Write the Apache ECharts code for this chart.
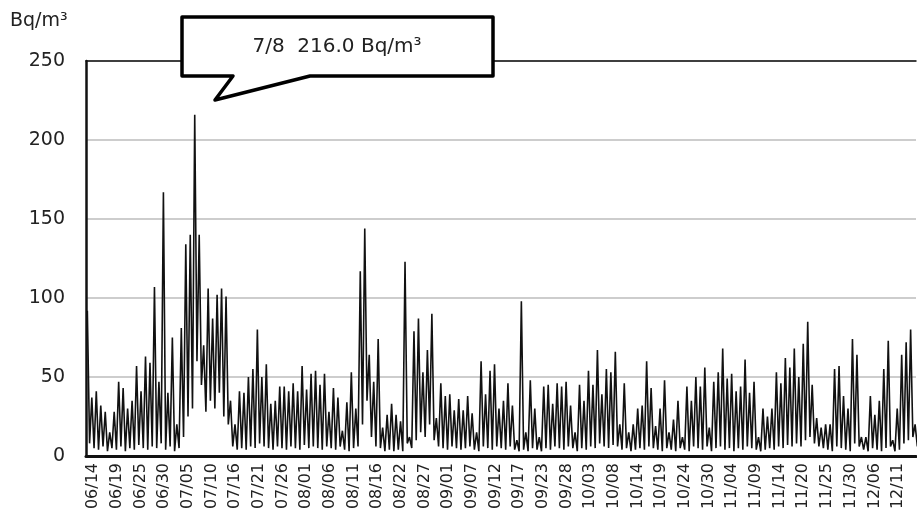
<!DOCTYPE html>
<html>
<head>
<meta charset="utf-8">
<script src="https://cdn.jsdelivr.net/npm/echarts@6/dist/echarts.min.js"></script>
<style>
  html, body { margin: 0; padding: 0; background: #fff; }
  #chart { width: 917px; height: 530px; }
</style>
</head>
<body>
<div id="chart"></div>
<script>
// x labels, one every 127 hours
const tickLabels = ['06/14', '06/19', '06/25', '06/30', '07/05', '07/10', '07/16', '07/21', '07/26',
  '08/01', '08/06', '08/11', '08/16', '08/22', '08/27', '09/01', '09/07', '09/12', '09/17', '09/23',
  '09/28', '10/03', '10/08', '10/14', '10/19', '10/24', '10/30', '11/04', '11/09', '11/14', '11/20',
  '11/25', '11/30', '12/06', '12/11'];
const tickStart = 1.57;   // in days from the left edge
const tickStep = 127 / 24;

const yTicks = [0, 50, 100, 150, 200, 250];

// daily peak (night) and trough (day) values, Bq/m3
const dailyHigh = [
  92, 37, 41, 32, 28, 15, 28, 47, 43, 30,
  35, 57, 41, 63, 59, 107, 47, 167, 40, 75,
  20, 81, 134, 140, 216, 140, 70, 106, 87, 102,
  106, 101, 35, 20, 41, 40, 50, 55, 80, 50,
  58, 33, 35, 44, 44, 41, 46, 41, 57, 42,
  52, 54, 45, 52, 28, 43, 37, 16, 34, 53,
  30, 117, 144, 64, 47, 74, 18, 26, 33, 26,
  22, 123, 12, 79, 87, 53, 67, 90, 24, 46,
  38, 39, 29, 36, 29, 38, 27, 15, 60, 39,
  54, 58, 30, 35, 46, 32, 10, 98, 15, 48,
  30, 12, 44, 45, 33, 46, 44, 47, 32, 15,
  45, 35, 54, 45, 67, 39, 55, 53, 66, 20,
  46, 15, 20, 30, 32, 60, 43, 19, 30, 48,
  15, 23, 35, 12, 44, 35, 50, 44, 56, 18,
  47, 53, 68, 49, 52, 41, 44, 61, 40, 47,
  12, 30, 25, 30, 53, 46, 62, 56, 68, 50,
  71, 85, 45, 24, 18, 20, 20, 55, 57, 38,
  30, 74, 64, 12, 12, 38, 26, 35, 55, 73,
  10, 30, 64, 72, 80, 20
];
const dailyLow = [
  8, 5, 4, 6, 3, 5, 4, 6, 3, 5,
  4, 7, 5, 4, 6, 5, 8, 4, 6, 3,
  5, 12, 25, 30, 60, 45, 28, 35, 30, 40,
  25, 20, 6, 4, 5, 4, 6, 5, 8, 6,
  5, 4, 6, 5, 4, 6, 5, 4, 7, 5,
  6, 5, 4, 6, 5, 4, 6, 4, 3, 5,
  6, 20, 35, 12, 6, 5, 3, 4, 3, 4,
  3, 8, 5, 10, 15, 12, 20, 10, 6, 5,
  4, 6, 5, 4, 5, 6, 4, 3, 6, 5,
  4, 6, 5, 4, 6, 4, 3, 4, 3, 5,
  4, 3, 5, 4, 6, 5, 4, 6, 5, 3,
  5, 4, 6, 5, 8, 6, 5, 7, 6, 4,
  5, 3, 4, 5, 4, 6, 5, 4, 3, 5,
  4, 3, 5, 4, 3, 6, 5, 4, 6, 3,
  5, 6, 4, 5, 3, 5, 4, 6, 5, 4,
  3, 4, 5, 4, 6, 5, 7, 6, 8, 6,
  10, 12, 8, 6, 5, 4, 3, 6, 5, 4,
  3, 8, 6, 4, 3, 5, 4, 3, 5, 6,
  3, 4, 8, 10, 12, 6
];

const unitText = 'Bq/m³';
const peakNote = '7/8  216.0 Bq/m³';

let seriesData = [];
dailyHigh.forEach((v, i) => {
  seriesData.push([i + 0.3, v]);
  seriesData.push([i + 0.8, dailyLow[i]]);
});

const xMax = dailyHigh.length - 0.5;
const tickValues = tickLabels.map((t, i) => tickStart + i * tickStep);
const font = 'DejaVu Sans';

let chart = echarts.init(document.getElementById('chart'), null, { renderer: 'canvas' });

let option = {
  animation: false,
  backgroundColor: '#fff',
  grid: { left: 86, right: 1, top: 61, bottom: 74 },
  xAxis: [{
    type: 'value',
    min: 0,
    max: xMax,
    axisLine: { show: true, lineStyle: { color: '#111', width: 3 } },
    axisTick: { show: false },
    splitLine: { show: false },
    axisLabel: {
      customValues: tickValues,
      rotate: 90,
      margin: 7,
      color: '#222',
      fontFamily: font,
      fontSize: 16,
      formatter: v => tickLabels[Math.round((v - tickStart) / tickStep)]
    }
  }, {
    type: 'value',
    position: 'top',
    min: 0,
    max: xMax,
    axisLine: { show: true, lineStyle: { color: '#111', width: 1.5 } },
    axisTick: { show: false },
    axisLabel: { show: false },
    splitLine: { show: false }
  }],
  yAxis: {
    type: 'value',
    min: yTicks[0],
    max: yTicks[yTicks.length - 1],
    interval: 50,
    axisLine: { show: true, lineStyle: { color: '#111', width: 2.5 } },
    axisTick: { show: false },
    axisLabel: { color: '#222', fontFamily: font, fontSize: 19, margin: 21 },
    splitLine: { show: true, lineStyle: { color: '#bdbdbd', width: 1.5 } }
  },
  series: [{
    type: 'line',
    data: seriesData,
    showSymbol: false,
    lineStyle: { color: '#111', width: 1.6 },
    z: 3
  }],
  graphic: [{
    type: 'text',
    left: 10,
    top: 12,
    style: { text: unitText, fill: '#222', font: '19px "DejaVu Sans"' }
  }, {
    type: 'polygon',
    z: 100,
    shape: {
      points: [[182, 17], [493, 17], [493, 76], [310, 76], [215, 100], [233, 76], [182, 76]]
    },
    style: { fill: '#fff', stroke: '#000', lineWidth: 3.5, lineJoin: 'round' }
  }, {
    type: 'text',
    z: 101,
    x: 337,
    y: 47,
    style: {
      text: peakNote,
      fill: '#222',
      font: '20px "DejaVu Sans"',
      textAlign: 'center',
      textVerticalAlign: 'middle'
    }
  }]
};

chart.setOption(option);
</script>
</body>
</html>
